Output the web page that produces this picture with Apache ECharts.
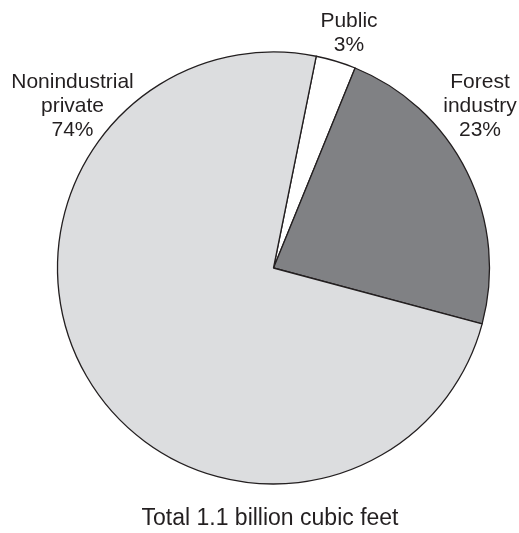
<!DOCTYPE html>
<html>
<head>
<meta charset="utf-8">
<script src="https://cdn.jsdelivr.net/npm/echarts@6/dist/echarts.min.js"></script>
<style>
  html, body { margin: 0; padding: 0; background: #ffffff; }
  #chart { width: 519px; height: 533px; }
</style>
</head>
<body>
<div id="chart"></div>
<script>
// Ownership shares, listed clockwise from the top
const categories = ['Public', 'Forest industry', 'Nonindustrial private'];
const labelLines = ['Public', 'Forest\nindustry', 'Nonindustrial\nprivate'];
const shares = [3, 23, 74];
const sliceColors = ['#ffffff', '#808184', '#dcdddf'];
const footnote = 'Total 1.1 billion cubic feet';

// Where each label block sits (centre x, top y)
const labelSpots = [
  { x: 349, y: 9 },
  { x: 480, y: 70 },
  { x: 72.5, y: 70 }
];

const chart = echarts.init(document.getElementById('chart'), null, { renderer: 'canvas' });

const data = categories.map((name, i) => ({
  name: name,
  value: shares[i],
  itemStyle: { color: sliceColors[i] },
  label: { formatter: labelLines[i] + '\n' + shares[i] + '%' }
}));

chart.setOption({
  animation: false,
  backgroundColor: '#ffffff',
  graphic: [{
    type: 'text',
    x: 270,
    y: 507.5,
    silent: true,
    style: {
      text: footnote,
      fontFamily: 'Liberation Sans, Arial, sans-serif',
      fontSize: 23,
      fill: '#231f20',
      align: 'center',
      verticalAlign: 'top'
    }
  }],
  series: [{
    type: 'pie',
    center: [273.5, 268],
    radius: [0, 216],
    startAngle: 78.6,
    clockwise: true,
    silent: true,
    data: data,
    itemStyle: { borderColor: '#231f20', borderWidth: 1.3 },
    labelLine: { show: false },
    label: {
      show: true,
      position: 'inside',
      overflow: 'none',
      fontFamily: 'Liberation Sans, Arial, sans-serif',
      fontSize: 21,
      lineHeight: 24,
      color: '#231f20',
      align: 'center',
      verticalAlign: 'top'
    },
    labelLayout: function (p) {
      const s = labelSpots[p.dataIndex];
      return { x: s.x, y: s.y, align: 'center', verticalAlign: 'top' };
    }
  }]
});
</script>
</body>
</html>
